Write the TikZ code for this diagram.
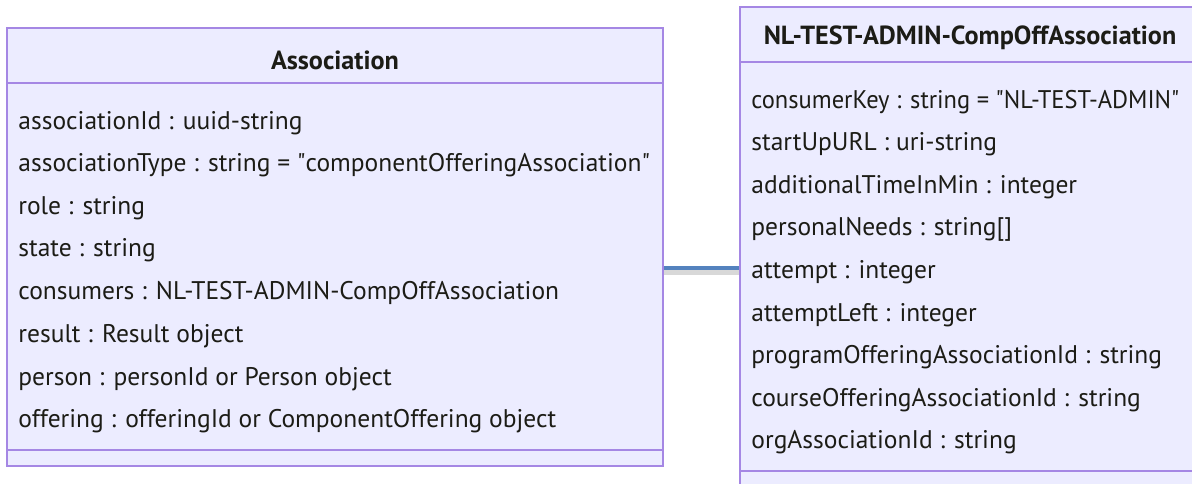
\documentclass[tikz,border=0pt]{standalone}
\usepackage{fontspec}
\setmainfont{PT Sans}
\usetikzlibrary{positioning,calc}
\definecolor{lila}{RGB}{165,135,228}
\definecolor{fondo}{RGB}{236,236,255}
\definecolor{tinta}{RGB}{28,28,22}
\definecolor{enl}{RGB}{84,130,190}
\newcommand{\cm}{\textquotedbl}
\tikzset{
  clase/.style={draw=lila, fill=fondo, line width=1pt, rectangle, inner sep=0pt},
  sep/.style={draw=lila, line width=1pt},
  atr/.style={anchor=mid west, text=tinta, inner sep=0pt, yshift=-1.5pt, font=\fontsize{12.75}{14}\selectfont},
  titulo/.style={text=tinta, inner sep=0pt, font=\bfseries\fontsize{13.1}{14}\selectfont},
  enlace/.style={line width=2pt, enl},
  sombra/.style={line width=2.5pt, black!30, opacity=.5},
}

\begin{document}
\begin{tikzpicture}[x=0.5pt, y=-0.5pt]
  \useasboundingbox (0,0) rectangle (1192,483);
  \clip (0,0) rectangle (1192,483);
  % clases
  \node[clase, minimum width=328pt, minimum height=219pt] (assoc) at (335,247) {};
  \node[clase, minimum width=230pt, minimum height=241.5pt] (cons) at (970,248.5) {};
  \draw[sep] (assoc.west |- 0,83) -- (assoc.east |- 0,83);
  \draw[sep] (assoc.west |- 0,450) -- (assoc.east |- 0,450);
  \draw[sep] (cons.west |- 0,62) -- (cons.east |- 0,62);
  \draw[sep] (cons.west |- 0,471) -- (cons.east |- 0,471);
  % Association
  \node[titulo] (t1) at (335,60) {Association};
  \node[atr] (a1) at (18,121) {associationId : uuid-string};
  \node[atr] (a2) at (18,163) {associationType : string = \cm componentOfferingAssociation\cm};
  \node[atr] (a3) at (18,206) {role : string};
  \node[atr] (a4) at (18,248) {state : string};
  \node[atr] (a5) at (18,291) {consumers : NL-TEST-ADMIN-CompOffAssociation};
  \node[atr] (a6) at (18,334) {result : Result object};
  \node[atr] (a7) at (18,377) {person : personId or Person object};
  \node[atr] (a8) at (18,419) {offering : offeringId or ComponentOffering object};
  % NL-TEST-ADMIN-CompOffAssociation
  \node[titulo] (t2) at (970,38) {NL-TEST-ADMIN-CompOffAssociation};
  \node[atr, xscale=.96] (b1) at (751,100) {consumerKey : string = \cm NL-TEST-ADMIN\cm};
  \node[atr] (b2) at (751,142) {startUpURL : uri-string};
  \node[atr] (b3) at (751,185) {additionalTimeInMin : integer};
  \node[atr] (b4) at (751,227) {personalNeeds : string[]};
  \node[atr] (b5) at (751,270) {attempt : integer};
  \node[atr] (b6) at (751,313) {attemptLeft : integer};
  \node[atr] (b7) at (751,355) {programOfferingAssociationId : string};
  \node[atr] (b8) at (751,398) {courseOfferingAssociationId : string};
  \node[atr] (b9) at (751,440) {orgAssociationId : string};
  % enlace
  \coordinate (h) at (700,268);
  \draw[sombra] ($(assoc.east |- h)+(0,4)$) -- ($(cons.west |- h)+(0,4)$);
  \draw[enlace] (assoc.east |- h) -- (cons.west |- h);
\end{tikzpicture}
\end{document}
